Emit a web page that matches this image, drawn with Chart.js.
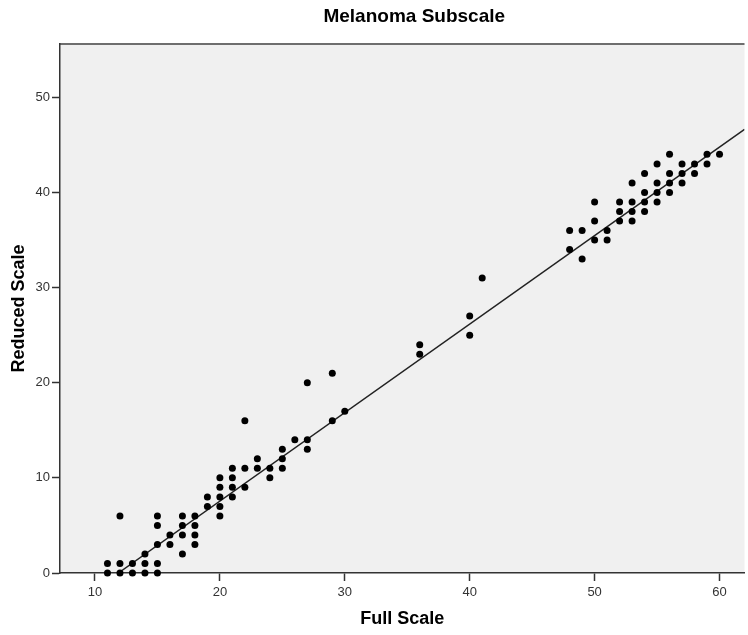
<!DOCTYPE html>
<html>
<head>
<meta charset="utf-8">
<script src="https://cdn.jsdelivr.net/npm/chart.js@4/dist/chart.umd.min.js"></script>
<style>
  html, body { margin: 0; padding: 0; background: #ffffff; overflow: hidden; }
  #wrap { width: 748px; height: 635px; position: relative; }
</style>
</head>
<body>
<div id="wrap"><canvas id="c" width="748" height="635"></canvas></div>
<script>
// ---- Data ----
const CHART_TITLE = "Melanoma Subscale";
const X_TITLE = "Full Scale";
const Y_TITLE = "Reduced Scale";

const FULL_SCALE = [
  11, 11,
  12, 12, 12,
  13, 13,
  14, 14, 14,
  15, 15, 15, 15, 15,
  16, 16,
  17, 17, 17, 17,
  18, 18, 18, 18,
  19, 19,
  20, 20, 20, 20, 20,
  21, 21, 21, 21,
  22, 22, 22,
  23, 23,
  24, 24,
  25, 25, 25,
  26,
  27, 27, 27,
  29, 29,
  30,
  36, 36,
  40, 40,
  41,
  48, 48,
  49, 49,
  50, 50, 50,
  51, 51,
  52, 52, 52,
  53, 53, 53, 53,
  54, 54, 54, 54,
  55, 55, 55, 55,
  56, 56, 56, 56,
  57, 57, 57,
  58, 58,
  59, 59,
  60
];
const REDUCED_SCALE = [
  0, 1,
  0, 1, 6,
  0, 1,
  0, 1, 2,
  0, 1, 3, 5, 6,
  3, 4,
  2, 4, 5, 6,
  3, 4, 5, 6,
  7, 8,
  6, 7, 8, 9, 10,
  8, 9, 10, 11,
  9, 11, 16,
  11, 12,
  10, 11,
  11, 12, 13,
  14,
  13, 14, 20,
  16, 21,
  17,
  23, 24,
  25, 27,
  31,
  34, 36,
  33, 36,
  35, 37, 39,
  35, 36,
  37, 38, 39,
  37, 38, 39, 41,
  38, 39, 40, 42,
  39, 40, 41, 43,
  40, 41, 42, 44,
  41, 42, 43,
  42, 43,
  43, 44,
  44
];

// Fit line (linear)
const FIT_SLOPE = 0.930;
const FIT_INTERCEPT = -11.04;

const X_TICKS = [10, 20, 30, 40, 50, 60];
const Y_TICKS = [0, 10, 20, 30, 40, 50];
const X_MIN = 7.2, X_MAX = 62.0;
const Y_MIN = 0, Y_MAX = 55.6;

// ---- Build ----
const points = FULL_SCALE.map((x, i) => ({ x: x, y: REDUCED_SCALE[i] }));
const fitStart = -FIT_INTERCEPT / FIT_SLOPE;
const fitPoints = [fitStart, X_MAX].map(x => ({ x: x, y: FIT_SLOPE * x + FIT_INTERCEPT }));

const FONT = "'Liberation Sans', Arial, sans-serif";

const framePlugin = {
  id: 'frame',
  beforeDraw(chart) {
    const { ctx, chartArea: a } = chart;
    ctx.save();
    ctx.fillStyle = '#F0F0F0';
    ctx.fillRect(a.left, a.top, a.right - a.left, a.bottom - a.top);
    ctx.strokeStyle = '#6e6e6e';
    ctx.lineWidth = 2;
    ctx.beginPath();
    ctx.moveTo(a.left, a.top);
    ctx.lineTo(a.right, a.top);
    ctx.stroke();
    ctx.restore();
  },
  afterDraw(chart) {
    const { ctx, chartArea: a } = chart;
    ctx.save();
    ctx.fillStyle = '#000';
    ctx.font = "bold 19px " + FONT;
    ctx.textAlign = 'center';
    ctx.textBaseline = 'middle';
    ctx.fillText(CHART_TITLE, (a.left + a.right) / 2 + 12, 17);
    ctx.restore();
  }
};

new Chart(document.getElementById('c'), {
  data: {
    datasets: [
      {
        type: 'scatter',
        data: points,
        pointRadius: 3.5,
        pointHoverRadius: 3.5,
        pointBackgroundColor: '#000',
        pointBorderColor: '#000',
        pointBorderWidth: 0,
        clip: false,
        order: 1
      },
      {
        type: 'line',
        data: fitPoints,
        borderColor: '#222',
        borderWidth: 1.5,
        pointRadius: 0,
        fill: false,
        tension: 0,
        order: 2
      }
    ]
  },
  options: {
    responsive: false,
    animation: false,
    events: [],
    layout: { padding: { top: 44, right: 0, left: 0, bottom: 0 } },
    plugins: { legend: { display: false }, tooltip: { enabled: false }, title: { display: false } },
    scales: {
      x: {
        type: 'linear',
        min: X_MIN, max: X_MAX,
        afterBuildTicks: (s) => { s.ticks = X_TICKS.map(v => ({ value: v })); },
        afterFit: (s) => { s.height = 62; },
        grid: { drawOnChartArea: false, drawTicks: true, tickLength: 8, tickColor: '#333', tickWidth: 1.5 },
        border: { display: true, color: '#333', width: 1.5 },
        ticks: { color: '#333', font: { family: FONT, size: 13 }, padding: 4, maxRotation: 0 },
        title: { display: true, text: X_TITLE, color: '#000', font: { family: FONT, size: 18, weight: 'bold' }, padding: { top: 0, bottom: 5 } }
      },
      y: {
        type: 'linear',
        min: Y_MIN, max: Y_MAX,
        afterBuildTicks: (s) => { s.ticks = Y_TICKS.map(v => ({ value: v })); },
        afterFit: (s) => { s.width = 60; },
        grid: { drawOnChartArea: false, drawTicks: true, tickLength: 8, tickColor: '#333', tickWidth: 1.5 },
        border: { display: true, color: '#333', width: 1.5 },
        ticks: { color: '#333', font: { family: FONT, size: 13 }, padding: 2 },
        title: { display: true, text: Y_TITLE, color: '#000', font: { family: FONT, size: 18, weight: 'bold' }, padding: { top: 8, bottom: 0 } }
      }
    }
  },
  plugins: [framePlugin]
});
</script>
</body>
</html>
